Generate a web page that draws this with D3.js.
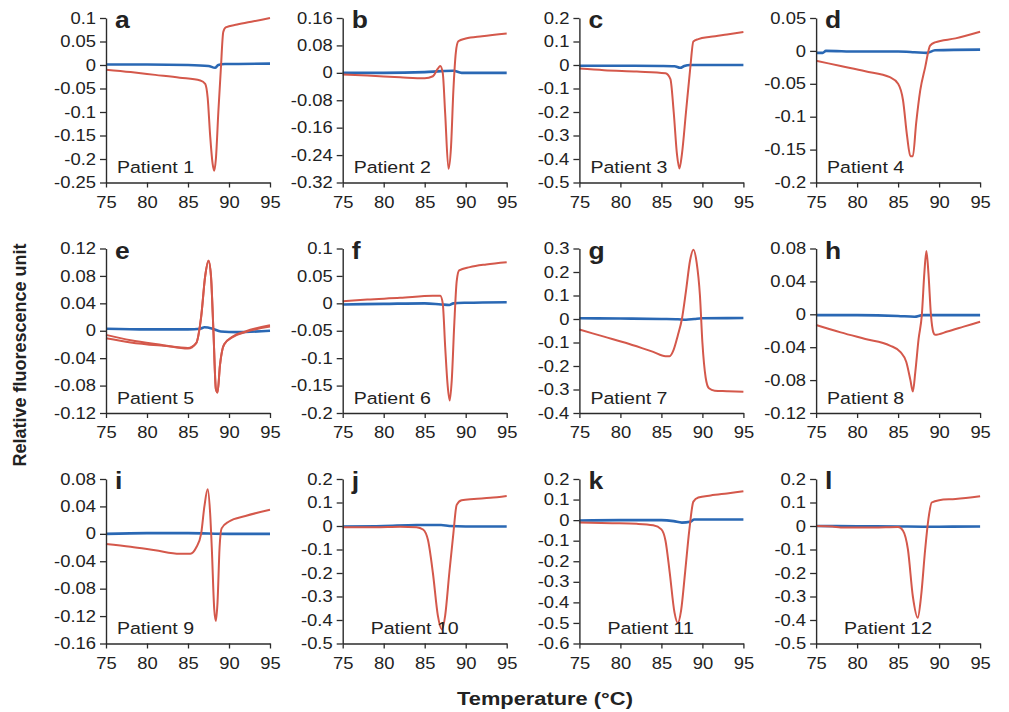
<!DOCTYPE html>
<html><head><meta charset="utf-8">
<script src="https://cdn.jsdelivr.net/npm/d3@7"></script>
<style>
body{margin:0;background:#fff;}
svg text{font-family:"Liberation Sans",Arial,sans-serif;fill:#222;}
.sx{transform-box:fill-box;transform:scaleX(1.15);}
.ytick text{transform-origin:right center;}
.xtick text{transform-origin:center center;}
.lbl{transform-origin:left center;}
.ctr{transform-origin:center center;}
</style></head>
<body><svg id="c" width="1009" height="712"></svg>
<script>
const panelLetters = ["a","b","c","d","e","f","g","h","i","j","k","l"];
const patientLabels = ["Patient 1","Patient 2","Patient 3","Patient 4","Patient 5","Patient 6","Patient 7","Patient 8","Patient 9","Patient 10","Patient 11","Patient 12"];
const xTicks = [75,80,85,90,95];
const yTicks = [
 [0.1,0.05,0,-0.05,-0.1,-0.15,-0.2,-0.25],
 [0.16,0.08,0,-0.08,-0.16,-0.24,-0.32],
 [0.2,0.1,0,-0.1,-0.2,-0.3,-0.4,-0.5],
 [0.05,0,-0.05,-0.1,-0.15,-0.2],
 [0.12,0.08,0.04,0,-0.04,-0.08,-0.12],
 [0.1,0.05,0,-0.05,-0.1,-0.15,-0.2],
 [0.3,0.2,0.1,0,-0.1,-0.2,-0.3,-0.4],
 [0.08,0.04,0,-0.04,-0.08,-0.12],
 [0.08,0.04,0,-0.04,-0.08,-0.12,-0.16],
 [0.2,0.1,0,-0.1,-0.2,-0.3,-0.4,-0.5],
 [0.2,0.1,0,-0.1,-0.2,-0.3,-0.4,-0.5,-0.6],
 [0.2,0.1,0,-0.1,-0.2,-0.3,-0.4,-0.5]
];
// red (sample) curves: [temperature, value]
const redA = [[75,-0.010],[78,-0.015],[81,-0.021],[84,-0.027],[86.5,-0.033],[87.1,-0.040],[87.4,-0.07],[87.7,-0.15],[88.0,-0.21],[88.2,-0.225],[88.4,-0.20],[88.7,-0.10],[89.0,-0.01],[89.3,0.07],[89.6,0.080],[91,0.086],[93,0.093],[95,0.100]];
const redB = [[75,-0.005],[78,-0.008],[82,-0.013],[85,-0.016],[86.0,-0.010],[86.6,0.012],[86.9,0.020],[87.2,0.0],[87.5,-0.12],[87.9,-0.28],[88.2,-0.22],[88.5,-0.05],[88.8,0.06],[89.1,0.092],[90,0.100],[92,0.107],[95,0.115]];
const redC = [[75,-0.015],[78,-0.022],[82,-0.028],[85.5,-0.035],[86.1,-0.06],[86.5,-0.2],[86.9,-0.38],[87.2,-0.44],[87.5,-0.38],[88.0,-0.2],[88.5,-0.02],[88.9,0.1],[89.5,0.11],[91,0.12],[93,0.13],[95,0.14]];
const redD = [[75,-0.015],[78,-0.023],[81,-0.031],[84,-0.040],[85,-0.050],[85.6,-0.075],[86.1,-0.13],[86.5,-0.160],[86.8,-0.16],[87.2,-0.11],[87.7,-0.06],[88.3,-0.025],[88.9,0.008],[89.5,0.013],[92,0.019],[95,0.029]];
const redE = [[75,-0.006],[78,-0.014],[82,-0.021],[85,-0.026],[86,-0.018],[86.6,0.02],[87.1,0.08],[87.5,0.102],[87.8,0.08],[88.1,0.0],[88.4,-0.085],[88.6,-0.09],[88.9,-0.05],[89.4,-0.02],[90.5,-0.008],[92,-0.001],[95,0.008]];
const redE2 = [[75,-0.011],[78,-0.017],[82,-0.022],[85,-0.025],[86,-0.018],[86.6,0.02],[87.1,0.08],[87.5,0.102],[87.8,0.08],[88.1,0.0],[88.4,-0.085],[88.6,-0.09],[88.9,-0.05],[89.4,-0.02],[90.5,-0.009],[92,-0.002],[95,0.006]];
const redF = [[75,0.004],[78,0.007],[82,0.010],[86,0.014],[86.9,0.014],[87.2,0.0],[87.5,-0.08],[87.8,-0.15],[88.05,-0.177],[88.3,-0.14],[88.6,-0.04],[88.9,0.04],[89.2,0.06],[90.5,0.066],[92.5,0.071],[95,0.075]];
const redG = [[75,-0.045],[78,-0.075],[81,-0.105],[84,-0.14],[85.5,-0.158],[86,-0.158],[86.5,-0.13],[87.0,-0.07],[87.5,0.0],[88.0,0.12],[88.5,0.25],[88.9,0.295],[89.3,0.24],[89.7,0.1],[90.0,-0.1],[90.4,-0.25],[90.8,-0.295],[91.5,-0.305],[93,-0.307],[95,-0.31]];
const redH = [[75,-0.013],[78,-0.022],[81,-0.030],[84,-0.038],[85.3,-0.046],[86,-0.058],[86.5,-0.08],[86.8,-0.094],[87.1,-0.07],[87.5,-0.03],[87.9,0.0],[88.2,0.05],[88.45,0.077],[88.7,0.05],[89.0,0.0],[89.3,-0.022],[89.5,-0.025],[91,-0.021],[93,-0.015],[95,-0.009]];
const redI = [[75,-0.015],[78,-0.019],[81,-0.024],[84,-0.029],[85.3,-0.029],[86,-0.02],[86.6,0.0],[87.0,0.04],[87.4,0.065],[87.7,0.03],[87.9,-0.02],[88.2,-0.11],[88.4,-0.127],[88.6,-0.1],[88.85,-0.02],[89.1,0.008],[90,0.018],[92,0.026],[95,0.035]];
const redJ = [[75,-0.005],[79,-0.005],[82,-0.003],[84,-0.005],[84.8,-0.015],[85.4,-0.06],[86.0,-0.2],[86.6,-0.38],[87.1,-0.44],[87.5,-0.38],[88.0,-0.2],[88.5,-0.03],[88.9,0.09],[89.5,0.11],[91,0.115],[93,0.12],[95,0.128]];
const redK = [[75,-0.012],[79,-0.015],[82,-0.018],[84,-0.025],[85,-0.045],[85.5,-0.1],[86.0,-0.25],[86.6,-0.45],[87.0,-0.5],[87.4,-0.44],[87.9,-0.25],[88.4,-0.05],[88.9,0.09],[89.5,0.11],[91,0.12],[93,0.13],[95,0.14]];
const redL = [[75,0.0],[77,-0.002],[78,-0.006],[82,-0.006],[85,-0.004],[85.6,-0.02],[86.2,-0.1],[86.8,-0.3],[87.4,-0.39],[87.8,-0.3],[88.3,-0.1],[88.7,0.03],[89.1,0.1],[90,0.11],[92,0.115],[95,0.127]];
// blue (control) curves
const blueA = [[75,0.001],[80,0.001],[85,0.0],[87.5,-0.002],[88.3,-0.006],[88.7,0.0],[89.5,0.002],[95,0.003]];
const blueB = [[75,0.0],[80,0.0],[85,0.002],[87,0.005],[88.5,0.006],[89.5,0.0],[95,0.0]];
const blueC = [[75,-0.003],[80,-0.003],[85,-0.004],[86.6,-0.005],[87.3,-0.012],[87.8,-0.004],[88.5,0.0],[95,0.0]];
const blueD = [[75,-0.003],[75.8,-0.003],[76.2,0.0],[80,-0.001],[85,-0.001],[87,-0.002],[88.5,-0.003],[89.5,0.001],[95,0.002]];
const blueE = [[75,0.003],[80,0.002],[85,0.002],[86.5,0.003],[87,0.005],[88,0.003],[89,-0.001],[91,-0.002],[95,0.0]];
const blueF = [[75,-0.002],[80,-0.001],[85,0.0],[87,-0.002],[88,-0.003],[88.5,0.0],[90,0.001],[95,0.002]];
const blueG = [[75,0.003],[80,0.002],[85,0.0],[87,-0.001],[88,-0.003],[89,0.0],[90,0.003],[95,0.004]];
const blueH = [[75,-0.001],[80,-0.001],[85,-0.002],[87,-0.003],[88,-0.001],[90,-0.001],[95,-0.001]];
const blueI = [[75,0.0],[80,0.001],[85,0.001],[90,0.0],[95,0.0]];
const blueJ = [[75,-0.002],[80,0.0],[84,0.004],[87,0.004],[88,0.0],[90,-0.002],[95,-0.002]];
const blueK = [[75,-0.002],[80,0.0],[85,0.0],[86.5,-0.005],[87.5,-0.012],[88.5,-0.008],[89,0.003],[95,0.003]];
const blueL = [[75,0.0],[80,-0.001],[85,-0.002],[88,-0.003],[90,-0.003],[95,-0.002]];

const redSeries = [[redA],[redB],[redC],[redD],[redE,redE2],[redF],[redG],[redH],[redI],[redJ],[redK],[redL]];
const blueSeries = [blueA,blueB,blueC,blueD,blueE,blueF,blueG,blueH,blueI,blueJ,blueK,blueL];

const RED = "#d4584b", BLUE = "#2a68b4", AXIS = "#2b2b2b";
const svg = d3.select("#c");
const colX0 = 106, colStep = 236.7, rowY0 = 18, rowStep = 230.5, pw = 164, ph = 164.5;

panelLetters.forEach((letter, i) => {
  const col = i % 4, row = Math.floor(i / 4);
  const left = colX0 + col * colStep, top = rowY0 + row * rowStep;
  const ticks = yTicks[i];
  const x = d3.scaleLinear().domain([75, 95]).range([0, pw]);
  const y = d3.scaleLinear().domain([d3.min(ticks), d3.max(ticks)]).range([ph, 0]);
  const g = svg.append("g").attr("transform", `translate(${left},${top})`);

  const line = d3.line().x(d => x(d[0])).y(d => y(d[1])).curve(d3.curveMonotoneX);
  g.append("path").datum(blueSeries[i]).attr("d", line)
    .attr("fill", "none").attr("stroke", BLUE).attr("stroke-width", 2.6);
  redSeries[i].forEach(s => {
    g.append("path").datum(s).attr("d", line)
      .attr("fill", "none").attr("stroke", RED).attr("stroke-width", 2).attr("stroke-linejoin", "round");
  });

  const ya = g.append("g").attr("class", "ytick")
    .call(d3.axisLeft(y).tickValues(ticks).tickFormat(d => String(d)).tickSize(6).tickSizeOuter(0).tickPadding(4));
  const xa = g.append("g").attr("class", "xtick").attr("transform", `translate(0,${ph})`)
    .call(d3.axisBottom(x).tickValues(xTicks).tickSize(5).tickSizeOuter(0).tickPadding(9));
  [ya, xa].forEach(a => {
    a.select(".domain").attr("stroke", AXIS).attr("stroke-width", 1.4);
    a.selectAll(".tick line").attr("stroke", AXIS).attr("stroke-width", 1.3);
    a.selectAll(".tick text").attr("font-size", 16).attr("fill", "#222").classed("sx", true)
      .attr("font-family", "Liberation Sans, Arial, sans-serif");
  });

  g.append("text").attr("x", 9).attr("y", 10).attr("font-size", 23).attr("font-weight", "bold")
    .attr("class", "sx lbl").attr("fill", "#222").text(letter);
  const shift = patientLabels[i].length > 9 ? 28 : 11;
  g.append("text").attr("x", shift).attr("y", ph - 9).attr("font-size", 17)
    .attr("class", "sx lbl").attr("fill", "#222").text(patientLabels[i]);
});

svg.append("text").attr("x", 545).attr("y", 705).attr("text-anchor", "middle")
  .attr("font-size", 19).attr("font-weight", "bold").attr("class", "sx ctr").text("Temperature (°C)");
svg.append("text").attr("transform", "translate(26,355) rotate(-90)").attr("text-anchor", "middle")
  .attr("font-size", 18).attr("font-weight", "bold").text("Relative fluorescence unit");
</script></body></html>
